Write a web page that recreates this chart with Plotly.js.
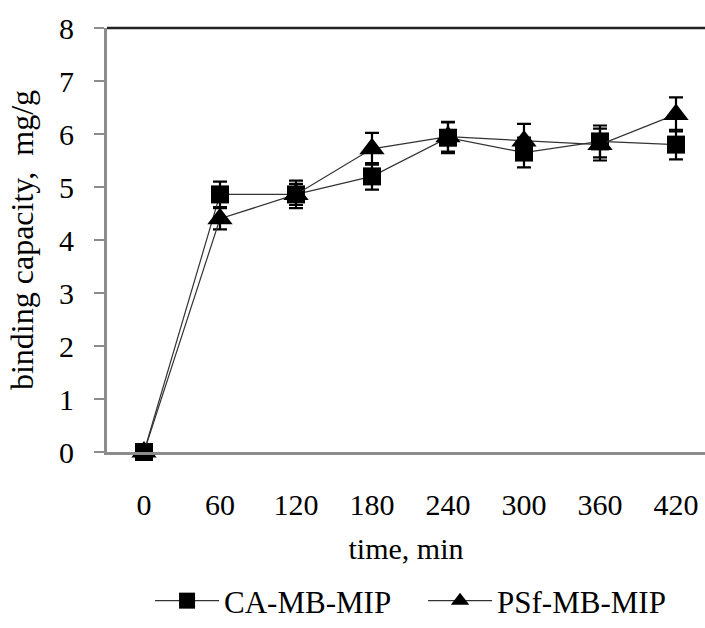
<!DOCTYPE html>
<html>
<head>
<meta charset="utf-8">
<script src="https://cdn.plot.ly/plotly-3.0.1.min.js"></script>
<style>html,body{margin:0;padding:0;background:#fff;}#chart{width:705px;height:628px;}</style>
</head>
<body>
<div id="chart"></div>
<script>
var timeMin = [0, 60, 120, 180, 240, 300, 360, 420];
var caValues = [0, 4.86, 4.86, 5.20, 5.93, 5.65, 5.86, 5.80];
var caErrors = [0, 0.24, 0.26, 0.25, 0.29, 0.28, 0.30, 0.28];
var psfValues = [0, 4.40, 4.86, 5.72, 5.95, 5.87, 5.80, 6.37];
var psfErrors = [0, 0.20, 0.20, 0.30, 0.28, 0.32, 0.30, 0.32];
var xTicks = [0, 60, 120, 180, 240, 300, 360, 420];
var yTicks = [0, 1, 2, 3, 4, 5, 6, 7, 8];

var serif = "'Liberation Serif'";

var traces = [
  {
    x: timeMin, y: caValues, name: "CA-MB-MIP", type: "scatter", mode: "lines+markers",
    line: {color: "#333333", width: 1.2},
    marker: {symbol: "square", size: 18, color: "#000000"},
    error_y: {type: "data", array: caErrors, visible: true, color: "#000000", thickness: 2.2, width: 7},
    cliponaxis: false
  },
  {
    x: timeMin, y: psfValues, name: "PSf-MB-MIP", type: "scatter", mode: "lines+markers",
    line: {color: "#333333", width: 1.2},
    marker: {symbol: "triangle-up", size: 22, color: "#000000"},
    error_y: {type: "data", array: psfErrors, visible: true, color: "#000000", thickness: 2.2, width: 7},
    cliponaxis: false
  }
];

var layout = {
  width: 705, height: 628,
  margin: {l: 107, r: 0, t: 28, b: 175, pad: 0},
  paper_bgcolor: "#ffffff", plot_bgcolor: "#ffffff",
  font: {family: serif, size: 30, color: "#000000"},
  showlegend: true,
  legend: {orientation: "h", x: 0.072, xanchor: "left", y: -0.35, yanchor: "middle",
           font: {family: serif, size: 31, color: "#000000"}, bgcolor: "rgba(0,0,0,0)",
           traceorder: "normal", itemwidth: 64, entrywidth: 194, entrywidthmode: "pixels"},
  xaxis: {
    range: [-29.2, 442.9], tickvals: xTicks, ticktext: xTicks.map(String),
    showgrid: false, zeroline: false,
    showline: true, linecolor: "#8c8c8c", linewidth: 3,
    ticks: "", ticklabelstandoff: 24,
    tickfont: {family: serif, size: 30, color: "#000000"},
    title: {text: "time, min", font: {family: serif, size: 30, color: "#000000"}, standoff: 18}
  },
  yaxis: {
    range: [0, 8], tickvals: yTicks, ticktext: yTicks.map(String),
    showgrid: false, zeroline: false,
    showline: true, linecolor: "#8c8c8c", linewidth: 3,
    ticks: "outside", ticklen: 10, tickwidth: 2, tickcolor: "#8c8c8c",
    ticklabelstandoff: 14,
    tickfont: {family: serif, size: 30, color: "#000000"},
    title: {text: "binding capacity,  mg/g", font: {family: serif, size: 32, color: "#000000"}, standoff: 16}
  },
  shapes: [
    {type: "line", xref: "paper", yref: "paper", x0: 0, x1: 1, y0: 1, y1: 1,
     line: {color: "#222222", width: 2.5}}
  ]
};

Plotly.newPlot("chart", traces, layout, {staticPlot: true, displayModeBar: false});
</script>
</body>
</html>
